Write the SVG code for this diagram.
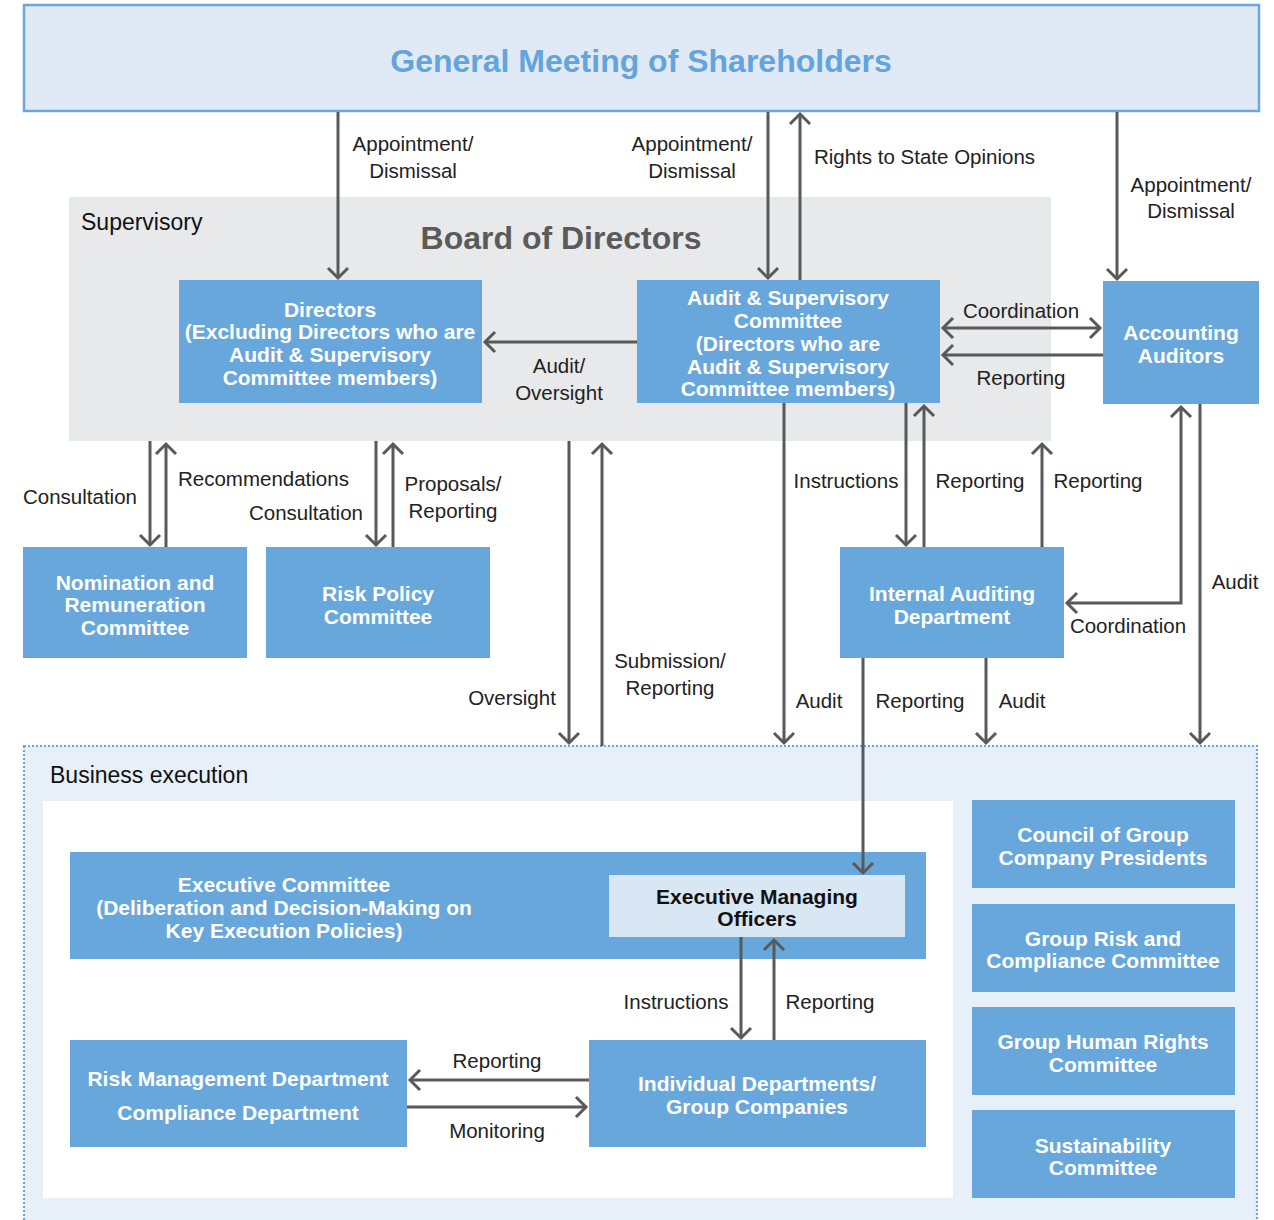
<svg xmlns="http://www.w3.org/2000/svg" width="1274" height="1220" viewBox="0 0 1274 1220">
  <style>
    .box { fill: #68a7dc; }
    .nt { font-family: "Liberation Sans", Arial, sans-serif; font-weight: bold; font-size: 21px; fill: #ffffff; text-anchor: middle; }
    .dk { fill: #111111; }
    .lbl { font-family: "Liberation Sans", Arial, sans-serif; font-size: 20.5px; fill: #222222; }
    .c { text-anchor: middle; }
    .hd { font-family: "Liberation Sans", Arial, sans-serif; font-size: 23px; fill: #111111; }
    .ln { fill: none; stroke: #595959; stroke-width: 3; }
  </style>
  <defs>
    <marker id="ah" viewBox="-12 -12 24 24" markerWidth="24" markerHeight="24" markerUnits="userSpaceOnUse" orient="auto-start-reverse" refX="0" refY="0">
      <path d="M-10,-10 L0,0 L-10,10" fill="none" stroke="#595959" stroke-width="3"/>
    </marker>
  </defs>

  <rect width="1274" height="1220" fill="#ffffff"/>

  <!-- General meeting -->
  <g id="general-meeting">
    <rect x="24" y="5" width="1235" height="106" fill="#dfeaf6" stroke="#6ba7dd" stroke-width="2.5"/>
    <text x="641" y="72" font-family="Liberation Sans, Arial, sans-serif" font-weight="bold" font-size="32" fill="#64a4dc" text-anchor="middle">General Meeting of Shareholders</text>
  </g>

  <!-- Supervisory area -->
  <g id="supervisory">
    <rect x="69" y="197" width="982" height="244" fill="#e8e9eb"/>
    <text class="hd" x="81" y="230">Supervisory</text>
    <text x="561" y="249" font-family="Liberation Sans, Arial, sans-serif" font-weight="bold" font-size="32" fill="#5a5a5a" text-anchor="middle">Board of Directors</text>
  </g>

  <!-- Business execution area -->
  <g id="business-execution">
    <rect x="24" y="746" width="1233" height="480" fill="#e7eff8" stroke="#6ba7dd" stroke-width="2.2" stroke-dasharray="2 2"/>
    <rect x="43" y="801" width="910" height="397" fill="#ffffff"/>
    <text class="hd" x="50" y="783">Business execution</text>
  </g>

  <g id="directors">
    <rect class="box" x="179" y="280" width="303" height="123"/>
    <text class="nt" x="330" y="317">Directors</text>
    <text class="nt" x="330" y="339">(Excluding Directors who are</text>
    <text class="nt" x="330" y="362">Audit &amp; Supervisory</text>
    <text class="nt" x="330" y="385">Committee members)</text>
  </g>

  <g id="audit-supervisory-committee">
    <rect class="box" x="637" y="280" width="303" height="123"/>
    <text class="nt" x="788" y="305">Audit &amp; Supervisory</text>
    <text class="nt" x="788" y="328">Committee</text>
    <text class="nt" x="788" y="351">(Directors who are</text>
    <text class="nt" x="788" y="374">Audit &amp; Supervisory</text>
    <text class="nt" x="788" y="396">Committee members)</text>
  </g>

  <g id="accounting-auditors">
    <rect class="box" x="1103" y="281" width="156" height="123"/>
    <text class="nt" x="1181" y="340">Accounting</text>
    <text class="nt" x="1181" y="363">Auditors</text>
  </g>

  <g id="nomination-remuneration">
    <rect class="box" x="23" y="547" width="224" height="111"/>
    <text class="nt" x="135" y="590">Nomination and</text>
    <text class="nt" x="135" y="612">Remuneration</text>
    <text class="nt" x="135" y="635">Committee</text>
  </g>

  <g id="risk-policy">
    <rect class="box" x="266" y="547" width="224" height="111"/>
    <text class="nt" x="378" y="601">Risk Policy</text>
    <text class="nt" x="378" y="624">Committee</text>
  </g>

  <g id="internal-auditing">
    <rect class="box" x="840" y="547" width="224" height="111"/>
    <text class="nt" x="952" y="601">Internal Auditing</text>
    <text class="nt" x="952" y="624">Department</text>
  </g>

  <g id="executive-committee">
    <rect class="box" x="70" y="852" width="856" height="107"/>
    <text class="nt" x="284" y="892">Executive Committee</text>
    <text class="nt" x="284" y="915">(Deliberation and Decision-Making on</text>
    <text class="nt" x="284" y="938">Key Execution Policies)</text>
  </g>

  <g id="executive-managing-officers">
    <rect x="609" y="875" width="296" height="62" fill="#d9e6f4"/>
    <text class="nt dk" x="757" y="904">Executive Managing</text>
    <text class="nt dk" x="757" y="926">Officers</text>
  </g>

  <g id="risk-compliance-departments">
    <rect class="box" x="70" y="1040" width="337" height="107"/>
    <text class="nt" x="238" y="1086">Risk Management Department</text>
    <text class="nt" x="238" y="1120">Compliance Department</text>
  </g>

  <g id="individual-departments">
    <rect class="box" x="589" y="1040" width="337" height="107"/>
    <text class="nt" x="757" y="1091">Individual Departments/</text>
    <text class="nt" x="757" y="1114">Group Companies</text>
  </g>

  <g id="council-group-presidents">
    <rect class="box" x="972" y="800" width="263" height="88"/>
    <text class="nt" x="1103" y="842">Council of Group</text>
    <text class="nt" x="1103" y="865">Company Presidents</text>
  </g>

  <g id="group-risk-compliance">
    <rect class="box" x="972" y="904" width="263" height="88"/>
    <text class="nt" x="1103" y="946">Group Risk and</text>
    <text class="nt" x="1103" y="968">Compliance Committee</text>
  </g>

  <g id="group-human-rights">
    <rect class="box" x="972" y="1007" width="263" height="88"/>
    <text class="nt" x="1103" y="1049">Group Human Rights</text>
    <text class="nt" x="1103" y="1072">Committee</text>
  </g>

  <g id="sustainability">
    <rect class="box" x="972" y="1110" width="263" height="88"/>
    <text class="nt" x="1103" y="1153">Sustainability</text>
    <text class="nt" x="1103" y="1175">Committee</text>
  </g>

  <!-- Connectors -->
  <g id="connectors">
    <path class="ln" d="M338,112 V278" marker-end="url(#ah)"/>
    <path class="ln" d="M768,112 V278" marker-end="url(#ah)"/>
    <path class="ln" d="M800,280 V114" marker-end="url(#ah)"/>
    <path class="ln" d="M1117,112 V279" marker-end="url(#ah)"/>
    <path class="ln" d="M637,342 H485" marker-end="url(#ah)"/>
    <path class="ln" d="M943,328 H1100" marker-start="url(#ah)" marker-end="url(#ah)"/>
    <path class="ln" d="M1103,355 H943" marker-end="url(#ah)"/>
    <path class="ln" d="M150,441 V545" marker-end="url(#ah)"/>
    <path class="ln" d="M166,547 V444" marker-end="url(#ah)"/>
    <path class="ln" d="M376,441 V545" marker-end="url(#ah)"/>
    <path class="ln" d="M393,547 V444" marker-end="url(#ah)"/>
    <path class="ln" d="M569,441 V743" marker-end="url(#ah)"/>
    <path class="ln" d="M602,746 V444" marker-end="url(#ah)"/>
    <path class="ln" d="M784,403 V743" marker-end="url(#ah)"/>
    <path class="ln" d="M906,403 V545" marker-end="url(#ah)"/>
    <path class="ln" d="M924,547 V406" marker-end="url(#ah)"/>
    <path class="ln" d="M1042,547 V444" marker-end="url(#ah)"/>
    <path class="ln" d="M1181,407 V603 H1067" marker-start="url(#ah)" marker-end="url(#ah)"/>
    <path class="ln" d="M1200,404 V743" marker-end="url(#ah)"/>
    <path class="ln" d="M863,658 V873" marker-end="url(#ah)"/>
    <path class="ln" d="M986,658 V743" marker-end="url(#ah)"/>
    <path class="ln" d="M741,937 V1038" marker-end="url(#ah)"/>
    <path class="ln" d="M774,1040 V940" marker-end="url(#ah)"/>
    <path class="ln" d="M589,1080 H410" marker-end="url(#ah)"/>
    <path class="ln" d="M407,1107 H586" marker-end="url(#ah)"/>
  </g>

  <!-- Connector labels -->
  <g id="labels">
    <text class="lbl c" x="413" y="151">Appointment/</text>
    <text class="lbl c" x="413" y="178">Dismissal</text>
    <text class="lbl c" x="692" y="151">Appointment/</text>
    <text class="lbl c" x="692" y="178">Dismissal</text>
    <text class="lbl" x="814" y="164">Rights to State Opinions</text>
    <text class="lbl c" x="1191" y="192">Appointment/</text>
    <text class="lbl c" x="1191" y="218">Dismissal</text>
    <text class="lbl c" x="1021" y="318">Coordination</text>
    <text class="lbl c" x="1021" y="385">Reporting</text>
    <text class="lbl c" x="559" y="373">Audit/</text>
    <text class="lbl c" x="559" y="400">Oversight</text>
    <text class="lbl c" x="80" y="504">Consultation</text>
    <text class="lbl" x="178" y="486">Recommendations</text>
    <text class="lbl c" x="306" y="520">Consultation</text>
    <text class="lbl c" x="453" y="491">Proposals/</text>
    <text class="lbl c" x="453" y="518">Reporting</text>
    <text class="lbl c" x="512" y="705">Oversight</text>
    <text class="lbl c" x="670" y="668">Submission/</text>
    <text class="lbl c" x="670" y="695">Reporting</text>
    <text class="lbl c" x="819" y="708">Audit</text>
    <text class="lbl c" x="846" y="488">Instructions</text>
    <text class="lbl c" x="980" y="488">Reporting</text>
    <text class="lbl c" x="1098" y="488">Reporting</text>
    <text class="lbl c" x="1235" y="589">Audit</text>
    <text class="lbl c" x="1128" y="633">Coordination</text>
    <text class="lbl c" x="920" y="708">Reporting</text>
    <text class="lbl c" x="1022" y="708">Audit</text>
    <text class="lbl c" x="676" y="1009">Instructions</text>
    <text class="lbl c" x="830" y="1009">Reporting</text>
    <text class="lbl c" x="497" y="1068">Reporting</text>
    <text class="lbl c" x="497" y="1138">Monitoring</text>
  </g>
</svg>
